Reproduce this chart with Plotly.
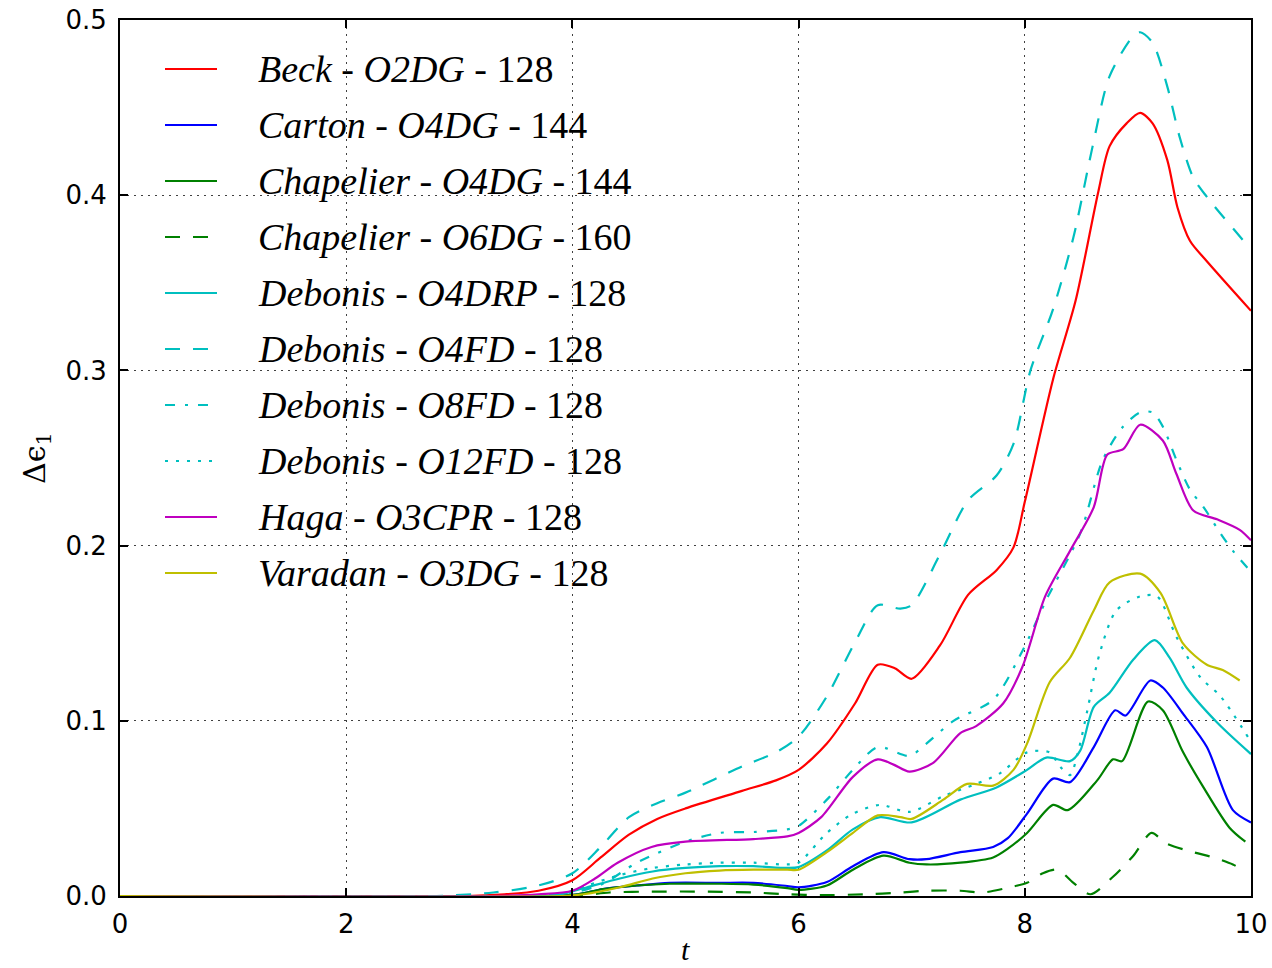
import plotly.graph_objects as go

# ---- data: time t and energy deviation for each computation ----
beck_o2dg_t = [0, 3.0, 3.4, 3.7, 4.0, 4.25, 4.5, 4.75, 5.0, 5.5, 5.8, 6.0, 6.25, 6.5, 6.7, 6.85, 7.0,
               7.25, 7.5, 7.75, 7.9, 8.0, 8.25, 8.45, 8.65, 8.75, 8.9, 9.02, 9.13, 9.26, 9.35, 9.46, 9.6, 10.0]
beck_o2dg_v = [0, 0, 0.001, 0.003, 0.009, 0.022, 0.035, 0.044, 0.050, 0.060, 0.066, 0.072, 0.087, 0.110,
               0.132, 0.130, 0.124, 0.143, 0.172, 0.186, 0.199, 0.225, 0.295, 0.340, 0.402, 0.428, 0.441,
               0.447, 0.441, 0.420, 0.393, 0.374, 0.363, 0.334]

carton_o4dg_t = [0, 3.8, 4.05, 4.27, 4.57, 4.86, 5.3, 5.6, 5.9, 6.0, 6.25, 6.48, 6.75, 6.98, 7.13, 7.43,
                 7.72, 7.85, 8.02, 8.25, 8.4, 8.61, 8.8, 8.89, 9.11, 9.22, 9.4, 9.61, 9.84, 10.0]
carton_o4dg_v = [0, 0, 0.001, 0.004, 0.006, 0.0075, 0.0075, 0.0075, 0.0057, 0.005, 0.008, 0.017, 0.025,
                 0.021, 0.021, 0.025, 0.028, 0.033, 0.047, 0.067, 0.065, 0.085, 0.106, 0.103, 0.123, 0.119,
                 0.104, 0.085, 0.049, 0.042]

chapelier_o4dg_t = [0, 3.8, 4.05, 4.27, 4.57, 4.86, 5.3, 5.6, 5.9, 6.0, 6.25, 6.48, 6.75, 6.98, 7.13, 7.43,
                    7.72, 7.85, 8.02, 8.25, 8.38, 8.64, 8.78, 8.86, 9.09, 9.22, 9.4, 9.58, 9.81, 9.95]
chapelier_o4dg_v = [0, 0, 0.001, 0.004, 0.006, 0.007, 0.007, 0.0065, 0.0045, 0.0035, 0.006, 0.015, 0.023,
                    0.019, 0.018, 0.019, 0.022, 0.027, 0.036, 0.052, 0.049, 0.066, 0.078, 0.077, 0.111,
                    0.106, 0.082, 0.062, 0.039, 0.031]

chapelier_o6dg_t = [0, 4.0, 4.33, 4.7, 5.2, 5.6, 5.9, 6.2, 6.6, 6.9, 7.13, 7.43, 7.63, 7.87, 8.02, 8.16,
                    8.29, 8.43, 8.58, 8.78, 8.96, 9.12, 9.25, 9.49, 9.67, 9.84, 9.92]
chapelier_o6dg_v = [0, 0, 0.002, 0.0025, 0.0025, 0.002, 0.001, 0.0005, 0.001, 0.002, 0.003, 0.003, 0.002,
                    0.005, 0.0075, 0.013, 0.015, 0.0075, 0.001, 0.011, 0.023, 0.036, 0.030, 0.025, 0.022,
                    0.018, 0.015]

debonis_o4drp_t = [0, 3.7, 3.9, 4.13, 4.42, 4.71, 5.0, 5.3, 5.6, 5.9, 6.0, 6.25, 6.48, 6.72, 7.0, 7.43,
                   7.75, 8.02, 8.19, 8.4, 8.49, 8.61, 8.75, 8.96, 9.15, 9.28, 9.43, 9.7, 10.0]
debonis_o4drp_v = [0, 0, 0.001, 0.005, 0.010, 0.014, 0.016, 0.017, 0.017, 0.016, 0.0165, 0.026, 0.038,
                   0.045, 0.042, 0.055, 0.062, 0.072, 0.079, 0.077, 0.083, 0.108, 0.116, 0.135, 0.146,
                   0.136, 0.119, 0.099, 0.081]

debonis_o4fd_t = [0, 2.8, 3.3, 3.7, 4.0, 4.25, 4.5, 4.75, 5.0, 5.5, 5.8, 6.0, 6.25, 6.5, 6.7, 6.9, 7.0,
                  7.25, 7.5, 7.75, 7.9, 8.05, 8.25, 8.43, 8.6, 8.75, 8.96, 9.02, 9.13, 9.26, 9.37, 9.49,
                  9.61, 10.0]
debonis_o4fd_v = [0, 0, 0.002, 0.006, 0.013, 0.028, 0.045, 0.053, 0.059, 0.074, 0.082, 0.091, 0.114,
                  0.145, 0.166, 0.164, 0.166, 0.195, 0.226, 0.240, 0.258, 0.300, 0.335, 0.376, 0.428,
                  0.468, 0.491, 0.493, 0.487, 0.462, 0.433, 0.410, 0.399, 0.369]

debonis_o8fd_t = [0, 3.5, 4.0, 4.27, 4.57, 5.0, 5.3, 5.6, 5.9, 6.0, 6.25, 6.48, 6.7, 6.98, 7.13, 7.37,
                  7.72, 7.98, 8.19, 8.49, 8.69, 8.87, 9.02, 9.13, 9.22, 9.34, 9.46, 9.58, 9.73, 9.84, 10.0]
debonis_o8fd_v = [0, 0, 0.002, 0.007, 0.019, 0.031, 0.036, 0.0365, 0.038, 0.040, 0.055, 0.072, 0.085,
                  0.080, 0.087, 0.100, 0.112, 0.140, 0.169, 0.207, 0.249, 0.268, 0.276, 0.276, 0.268,
                  0.249, 0.232, 0.222, 0.207, 0.197, 0.185]

debonis_o12fd_t = [0, 3.7, 3.9, 4.13, 4.42, 4.71, 5.0, 5.3, 5.6, 5.9, 6.0, 6.25, 6.48, 6.72, 6.98, 7.28,
                   7.57, 7.78, 8.02, 8.22, 8.31, 8.4, 8.47, 8.55, 8.66, 8.81, 9.02, 9.17, 9.34, 9.55,
                   9.73, 10.0]
debonis_o12fd_v = [0, 0, 0.001, 0.006, 0.012, 0.016, 0.018, 0.019, 0.019, 0.018, 0.019, 0.036, 0.047,
                   0.052, 0.048, 0.057, 0.064, 0.070, 0.082, 0.082, 0.074, 0.069, 0.082, 0.105, 0.138,
                   0.163, 0.171, 0.171, 0.148, 0.125, 0.114, 0.088]

haga_o3cpr_t = [0, 3.3, 3.7, 4.0, 4.2, 4.4, 4.7, 5.0, 5.6, 5.9, 6.0, 6.2, 6.48, 6.7, 6.84, 6.98, 7.19,
                7.43, 7.57, 7.81, 7.98, 8.18, 8.4, 8.61, 8.73, 8.87, 9.02, 9.22, 9.34, 9.49, 9.7, 9.9, 10.0]
haga_o3cpr_v = [0, 0, 0.001, 0.003, 0.010, 0.019, 0.028, 0.031, 0.0325, 0.034, 0.036, 0.045, 0.068,
                0.078, 0.075, 0.071, 0.076, 0.093, 0.097, 0.110, 0.131, 0.171, 0.197, 0.222, 0.252,
                0.255, 0.269, 0.260, 0.241, 0.220, 0.215, 0.209, 0.203]

varadan_o3dg_t = [0, 3.9, 4.1, 4.42, 4.71, 5.0, 5.3, 5.6, 5.9, 6.0, 6.25, 6.48, 6.7, 6.9, 7.0, 7.28,
                  7.49, 7.72, 7.9, 8.02, 8.22, 8.4, 8.61, 8.75, 9.02, 9.2, 9.4, 9.61, 9.75, 9.9]
varadan_o3dg_v = [0, 0, 0.001, 0.005, 0.010, 0.013, 0.0145, 0.015, 0.015, 0.015, 0.025, 0.036, 0.046,
                  0.045, 0.044, 0.055, 0.064, 0.063, 0.072, 0.087, 0.122, 0.136, 0.163, 0.179, 0.184,
                  0.173, 0.144, 0.132, 0.129, 0.123]

x_ticks = [0, 2, 4, 6, 8, 10]
y_ticks = [0.0, 0.1, 0.2, 0.3, 0.4, 0.5]

# ---- styling ----
RED, BLUE, GREEN = "#FF0000", "#0000FF", "#008000"
CYAN, MAGENTA, YELLOW = "#00BFBF", "#BF00BF", "#BFBF00"
DASH = "15px,13px"
DASHDOT = "10px,10px,3px,10px"
DOT = "3px,8px"
SERIF = "Liberation Serif, Times New Roman, Times, serif"

series = [
    ("<i>Beck</i> - <i>O2DG</i> - 128", beck_o2dg_t, beck_o2dg_v, RED, "solid"),
    ("<i>Carton</i> - <i>O4DG</i> - 144", carton_o4dg_t, carton_o4dg_v, BLUE, "solid"),
    ("<i>Chapelier</i> - <i>O4DG</i> - 144", chapelier_o4dg_t, chapelier_o4dg_v, GREEN, "solid"),
    ("<i>Chapelier</i> - <i>O6DG</i> - 160", chapelier_o6dg_t, chapelier_o6dg_v, GREEN, DASH),
    ("<i>Debonis</i> - <i>O4DRP</i> - 128", debonis_o4drp_t, debonis_o4drp_v, CYAN, "solid"),
    ("<i>Debonis</i> - <i>O4FD</i> - 128", debonis_o4fd_t, debonis_o4fd_v, CYAN, DASH),
    ("<i>Debonis</i> - <i>O8FD</i> - 128", debonis_o8fd_t, debonis_o8fd_v, CYAN, DASHDOT),
    ("<i>Debonis</i> - <i>O12FD</i> - 128", debonis_o12fd_t, debonis_o12fd_v, CYAN, DOT),
    ("<i>Haga</i> - <i>O3CPR</i> - 128", haga_o3cpr_t, haga_o3cpr_v, MAGENTA, "solid"),
    ("<i>Varadan</i> - <i>O3DG</i> - 128", varadan_o3dg_t, varadan_o3dg_v, YELLOW, "solid"),
]

W, H = 1272, 968
ML, MR, MT, MB = 120, 21, 20, 72
PW, PH = W - ML - MR, H - MT - MB
LW = 2.2

def px_x(px):
    return (px - ML) / PW

def px_y(py):
    return (H - MB - py) / PH

fig = go.Figure()
for name, t, v, color, dash in series:
    fig.add_trace(go.Scatter(
        x=t, y=v, mode="lines", name=name, showlegend=False,
        line=dict(color=color, width=LW, dash=dash, shape="spline", smoothing=0.8),
    ))

# legend drawn in the upper-left corner of the axes, without a frame
shapes, annotations = [], []
for i, (name, t, v, color, dash) in enumerate(series):
    row_y = px_y(69 + 56.0 * i)
    shapes.append(dict(type="line", xref="paper", yref="paper",
                       x0=px_x(165), x1=px_x(217), y0=row_y, y1=row_y,
                       line=dict(color=color, width=LW, dash=dash)))
    annotations.append(dict(xref="paper", yref="paper", x=px_x(256), y=row_y,
                            xanchor="left", yanchor="middle", showarrow=False, text=name,
                            font=dict(family=SERIF, size=38, color="black")))

# axis titles
annotations.append(dict(xref="paper", yref="paper", x=0.5, y=0, yshift=-53,
                        xanchor="center", yanchor="middle", showarrow=False, text="<i>t</i>",
                        font=dict(family=SERIF, size=30, color="black")))
annotations.append(dict(xref="paper", yref="paper", x=0, xshift=-84, y=0.5,
                        xanchor="center", yanchor="middle", showarrow=False, textangle=-90,
                        text="Δϵ<sub>1</sub>",
                        font=dict(family="DejaVu Serif", size=30, color="black")))

axis_common = dict(
    showline=True, linecolor="black", linewidth=2, mirror="allticks",
    ticks="inside", ticklen=8, tickwidth=1.5, tickcolor="black",
    showgrid=True, gridcolor="rgba(0,0,0,0.75)", gridwidth=1.3, griddash="2px,5px",
    zeroline=False, automargin=False,
    tickfont=dict(family="DejaVu Sans", size=26, color="black"),
)

fig.update_layout(
    width=W, height=H,
    margin=dict(l=ML, r=MR, t=MT, b=MB),
    paper_bgcolor="white", plot_bgcolor="white",
    xaxis=dict(range=[0, 10], tickvals=x_ticks, ticktext=[str(x) for x in x_ticks],
               ticklabelstandoff=4, **axis_common),
    yaxis=dict(range=[0, 0.5], tickvals=y_ticks, ticktext=[f"{y:.1f}" for y in y_ticks],
               ticklabelstandoff=6, **axis_common),
    shapes=shapes,
    annotations=annotations,
    showlegend=False,
)

fig.write_html("out.html")
